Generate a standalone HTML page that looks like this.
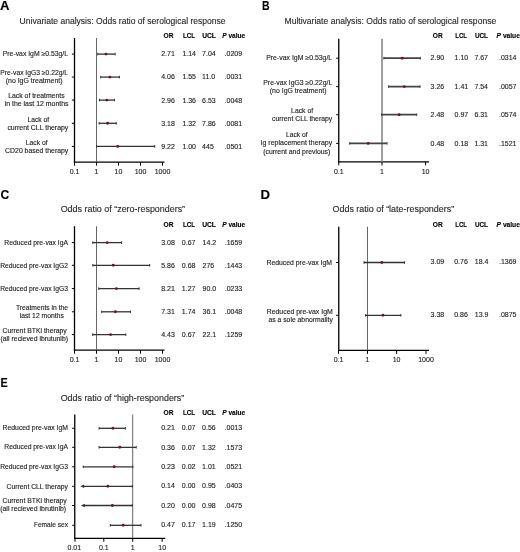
<!DOCTYPE html>
<html><head><meta charset="utf-8"><style>
html,body{margin:0;padding:0;background:#fff;}
svg{display:block;filter:blur(0.3px);font-family:"Liberation Sans",sans-serif;}

</style></head><body>
<svg width="520" height="552" viewBox="0 0 520 552" fill="#222">
<rect width="520" height="552" fill="#fff"/>
<text x="0.00" y="10.00" font-size="12.0" font-weight="bold" fill="#000" stroke="#000" stroke-width="0.12" textLength="9.50" lengthAdjust="spacingAndGlyphs">A</text>
<text x="19.60" y="23.75" font-size="8.7" fill="#282828" stroke="#282828" stroke-width="0.12" textLength="206.00" lengthAdjust="spacingAndGlyphs">Univariate analysis: Odds ratio of serological response</text>
<line x1="74.50" y1="38.00" x2="74.50" y2="162.85" stroke="#000" stroke-width="1.3"/>
<line x1="73.85" y1="162.20" x2="164.50" y2="162.20" stroke="#000" stroke-width="1.3"/>
<line x1="96.50" y1="38.00" x2="96.50" y2="162.20" stroke="#666" stroke-width="1.0"/>
<line x1="74.50" y1="162.20" x2="74.50" y2="165.70" stroke="#000" stroke-width="1"/>
<line x1="96.50" y1="162.20" x2="96.50" y2="165.70" stroke="#000" stroke-width="1"/>
<line x1="118.50" y1="162.20" x2="118.50" y2="165.70" stroke="#000" stroke-width="1"/>
<line x1="140.50" y1="162.20" x2="140.50" y2="165.70" stroke="#000" stroke-width="1"/>
<line x1="162.50" y1="162.20" x2="162.50" y2="165.70" stroke="#000" stroke-width="1"/>
<text x="74.50" y="174.10" font-size="7.0" text-anchor="middle" stroke="#222" stroke-width="0.12">0.1</text>
<text x="96.50" y="174.10" font-size="7.0" text-anchor="middle" stroke="#222" stroke-width="0.12">1</text>
<text x="118.50" y="174.10" font-size="7.0" text-anchor="middle" stroke="#222" stroke-width="0.12">10</text>
<text x="140.50" y="174.10" font-size="7.0" text-anchor="middle" stroke="#222" stroke-width="0.12">100</text>
<text x="162.50" y="174.10" font-size="7.0" text-anchor="middle" stroke="#222" stroke-width="0.12">1000</text>
<line x1="71.90" y1="54.10" x2="74.50" y2="54.10" stroke="#000" stroke-width="1"/>
<line x1="97.75" y1="54.10" x2="115.15" y2="54.10" stroke="#333" stroke-width="1.3"/>
<line x1="97.75" y1="52.80" x2="97.75" y2="55.40" stroke="#333" stroke-width="1"/>
<line x1="115.15" y1="52.80" x2="115.15" y2="55.40" stroke="#333" stroke-width="1"/>
<circle cx="106.03" cy="54.10" r="1.45" fill="#721226"/>
<line x1="71.90" y1="77.10" x2="74.50" y2="77.10" stroke="#000" stroke-width="1"/>
<line x1="100.69" y1="77.10" x2="119.41" y2="77.10" stroke="#333" stroke-width="1.3"/>
<line x1="100.69" y1="75.80" x2="100.69" y2="78.40" stroke="#333" stroke-width="1"/>
<line x1="119.41" y1="75.80" x2="119.41" y2="78.40" stroke="#333" stroke-width="1"/>
<circle cx="109.89" cy="77.10" r="1.45" fill="#721226"/>
<line x1="71.90" y1="100.10" x2="74.50" y2="100.10" stroke="#000" stroke-width="1"/>
<line x1="99.44" y1="100.10" x2="114.43" y2="100.10" stroke="#333" stroke-width="1.3"/>
<line x1="99.44" y1="98.80" x2="99.44" y2="101.40" stroke="#333" stroke-width="1"/>
<line x1="114.43" y1="98.80" x2="114.43" y2="101.40" stroke="#333" stroke-width="1"/>
<circle cx="106.87" cy="100.10" r="1.45" fill="#721226"/>
<line x1="71.90" y1="123.30" x2="74.50" y2="123.30" stroke="#000" stroke-width="1"/>
<line x1="99.15" y1="123.30" x2="116.20" y2="123.30" stroke="#333" stroke-width="1.3"/>
<line x1="99.15" y1="122.00" x2="99.15" y2="124.60" stroke="#333" stroke-width="1"/>
<line x1="116.20" y1="122.00" x2="116.20" y2="124.60" stroke="#333" stroke-width="1"/>
<circle cx="107.55" cy="123.30" r="1.45" fill="#721226"/>
<line x1="71.90" y1="146.40" x2="74.50" y2="146.40" stroke="#000" stroke-width="1"/>
<line x1="96.50" y1="146.40" x2="154.76" y2="146.40" stroke="#333" stroke-width="1.3"/>
<line x1="96.50" y1="145.10" x2="96.50" y2="147.70" stroke="#333" stroke-width="1"/>
<line x1="154.76" y1="145.10" x2="154.76" y2="147.70" stroke="#333" stroke-width="1"/>
<circle cx="117.72" cy="146.40" r="1.45" fill="#721226"/>
<text x="2.80" y="55.80" font-size="6.6" stroke="#222" stroke-width="0.12" textLength="65.20" lengthAdjust="spacingAndGlyphs">Pre-vax IgM ≥0.53g/L</text>
<text x="0.30" y="75.10" font-size="6.6" stroke="#222" stroke-width="0.12" textLength="67.70" lengthAdjust="spacingAndGlyphs">Pre-vax IgG3 ≥0.22g/L</text>
<text x="5.70" y="83.20" font-size="6.6" stroke="#222" stroke-width="0.12" textLength="56.90" lengthAdjust="spacingAndGlyphs">(no IgG treatment)</text>
<text x="8.20" y="98.00" font-size="6.6" stroke="#222" stroke-width="0.12" textLength="56.40" lengthAdjust="spacingAndGlyphs">Lack of treatments</text>
<text x="4.70" y="106.20" font-size="6.6" stroke="#222" stroke-width="0.12" textLength="63.80" lengthAdjust="spacingAndGlyphs">in the last 12 months</text>
<text x="27.40" y="121.50" font-size="6.6" stroke="#222" stroke-width="0.12" textLength="21.80" lengthAdjust="spacingAndGlyphs">Lack of</text>
<text x="7.40" y="129.80" font-size="6.6" stroke="#222" stroke-width="0.12" textLength="60.90" lengthAdjust="spacingAndGlyphs">current CLL therapy</text>
<text x="25.70" y="144.60" font-size="6.6" stroke="#222" stroke-width="0.12" textLength="22.00" lengthAdjust="spacingAndGlyphs">Lack of</text>
<text x="5.10" y="152.60" font-size="6.6" stroke="#222" stroke-width="0.12" textLength="63.20" lengthAdjust="spacingAndGlyphs">CD20 based therapy</text>
<text x="163.50" y="38.00" font-size="6.9" font-weight="bold" fill="#000" stroke="#000" stroke-width="0.12" textLength="10.00" lengthAdjust="spacingAndGlyphs">OR</text>
<text x="182.90" y="38.00" font-size="6.9" font-weight="bold" fill="#000" stroke="#000" stroke-width="0.12" textLength="12.20" lengthAdjust="spacingAndGlyphs">LCL</text>
<text x="202.20" y="38.00" font-size="6.9" font-weight="bold" fill="#000" stroke="#000" stroke-width="0.12" textLength="13.70" lengthAdjust="spacingAndGlyphs">UCL</text>
<text x="222.30" y="38.00" font-size="6.9" font-weight="bold" fill="#000" stroke="#000" stroke-width="0.12" textLength="22.80" lengthAdjust="spacingAndGlyphs"><tspan font-style="italic">P</tspan> value</text>
<text x="161.20" y="55.90" font-size="7.0" stroke="#222" stroke-width="0.12">2.71</text>
<text x="182.40" y="55.90" font-size="7.0" stroke="#222" stroke-width="0.12">1.14</text>
<text x="202.10" y="55.90" font-size="7.0" stroke="#222" stroke-width="0.12">7.04</text>
<text x="224.60" y="55.90" font-size="7.0" stroke="#222" stroke-width="0.12">.0209</text>
<text x="161.20" y="79.20" font-size="7.0" stroke="#222" stroke-width="0.12">4.06</text>
<text x="182.40" y="79.20" font-size="7.0" stroke="#222" stroke-width="0.12">1.55</text>
<text x="202.10" y="79.20" font-size="7.0" stroke="#222" stroke-width="0.12">11.0</text>
<text x="224.60" y="79.20" font-size="7.0" stroke="#222" stroke-width="0.12">.0031</text>
<text x="161.20" y="102.90" font-size="7.0" stroke="#222" stroke-width="0.12">2.96</text>
<text x="182.40" y="102.90" font-size="7.0" stroke="#222" stroke-width="0.12">1.36</text>
<text x="202.10" y="102.90" font-size="7.0" stroke="#222" stroke-width="0.12">6.53</text>
<text x="224.60" y="102.90" font-size="7.0" stroke="#222" stroke-width="0.12">.0048</text>
<text x="161.20" y="125.60" font-size="7.0" stroke="#222" stroke-width="0.12">3.18</text>
<text x="182.40" y="125.60" font-size="7.0" stroke="#222" stroke-width="0.12">1.32</text>
<text x="202.10" y="125.60" font-size="7.0" stroke="#222" stroke-width="0.12">7.86</text>
<text x="224.60" y="125.60" font-size="7.0" stroke="#222" stroke-width="0.12">.0081</text>
<text x="161.20" y="148.90" font-size="7.0" stroke="#222" stroke-width="0.12">9.22</text>
<text x="182.40" y="148.90" font-size="7.0" stroke="#222" stroke-width="0.12">1.00</text>
<text x="202.10" y="148.90" font-size="7.0" stroke="#222" stroke-width="0.12">445</text>
<text x="224.60" y="148.90" font-size="7.0" stroke="#222" stroke-width="0.12">.0501</text>
<text x="261.90" y="10.00" font-size="12.0" font-weight="bold" fill="#000" stroke="#000" stroke-width="0.12" textLength="7.60" lengthAdjust="spacingAndGlyphs">B</text>
<text x="284.50" y="23.75" font-size="8.7" fill="#282828" stroke="#282828" stroke-width="0.12" textLength="211.70" lengthAdjust="spacingAndGlyphs">Multivariate analysis: Odds ratio of serological response</text>
<line x1="338.75" y1="38.75" x2="338.75" y2="162.55" stroke="#000" stroke-width="1.3"/>
<line x1="338.10" y1="161.90" x2="429.00" y2="161.90" stroke="#000" stroke-width="1.3"/>
<line x1="382.00" y1="38.75" x2="382.00" y2="161.90" stroke="#8a8a8a" stroke-width="1.6"/>
<line x1="338.75" y1="161.90" x2="338.75" y2="165.40" stroke="#000" stroke-width="1"/>
<line x1="382.00" y1="161.90" x2="382.00" y2="165.40" stroke="#000" stroke-width="1"/>
<line x1="425.60" y1="161.90" x2="425.60" y2="165.40" stroke="#000" stroke-width="1"/>
<text x="338.75" y="174.10" font-size="7.0" text-anchor="middle" stroke="#222" stroke-width="0.12">0.1</text>
<text x="382.00" y="174.10" font-size="7.0" text-anchor="middle" stroke="#222" stroke-width="0.12">1</text>
<text x="425.60" y="174.10" font-size="7.0" text-anchor="middle" stroke="#222" stroke-width="0.12">10</text>
<line x1="336.15" y1="58.20" x2="338.75" y2="58.20" stroke="#000" stroke-width="1"/>
<line x1="383.80" y1="58.20" x2="420.40" y2="58.20" stroke="#444" stroke-width="1.7"/>
<line x1="383.80" y1="56.90" x2="383.80" y2="59.50" stroke="#444" stroke-width="1"/>
<line x1="420.40" y1="56.90" x2="420.40" y2="59.50" stroke="#444" stroke-width="1"/>
<circle cx="402.07" cy="58.20" r="1.45" fill="#721226"/>
<line x1="336.15" y1="86.60" x2="338.75" y2="86.60" stroke="#000" stroke-width="1"/>
<line x1="388.48" y1="86.60" x2="420.08" y2="86.60" stroke="#444" stroke-width="1.7"/>
<line x1="388.48" y1="85.30" x2="388.48" y2="87.90" stroke="#444" stroke-width="1"/>
<line x1="420.08" y1="85.30" x2="420.08" y2="87.90" stroke="#444" stroke-width="1"/>
<circle cx="404.27" cy="86.60" r="1.45" fill="#721226"/>
<line x1="336.15" y1="114.70" x2="338.75" y2="114.70" stroke="#000" stroke-width="1"/>
<line x1="381.43" y1="114.70" x2="416.72" y2="114.70" stroke="#444" stroke-width="1.7"/>
<line x1="381.43" y1="113.40" x2="381.43" y2="116.00" stroke="#444" stroke-width="1"/>
<line x1="416.72" y1="113.40" x2="416.72" y2="116.00" stroke="#444" stroke-width="1"/>
<circle cx="399.12" cy="114.70" r="1.45" fill="#721226"/>
<line x1="336.15" y1="143.40" x2="338.75" y2="143.40" stroke="#000" stroke-width="1"/>
<line x1="349.68" y1="143.40" x2="387.09" y2="143.40" stroke="#444" stroke-width="1.7"/>
<line x1="349.68" y1="142.10" x2="349.68" y2="144.70" stroke="#444" stroke-width="1"/>
<line x1="387.09" y1="142.10" x2="387.09" y2="144.70" stroke="#444" stroke-width="1"/>
<circle cx="368.17" cy="143.40" r="1.45" fill="#721226"/>
<text x="266.20" y="59.60" font-size="6.6" stroke="#222" stroke-width="0.12" textLength="66.00" lengthAdjust="spacingAndGlyphs">Pre-vax IgM ≥0.53g/L</text>
<text x="263.30" y="84.50" font-size="6.6" stroke="#222" stroke-width="0.12" textLength="68.90" lengthAdjust="spacingAndGlyphs">Pre-vax IgG3 ≥0.22g/L</text>
<text x="269.80" y="92.60" font-size="6.6" stroke="#222" stroke-width="0.12" textLength="56.70" lengthAdjust="spacingAndGlyphs">(no IgG treatment)</text>
<text x="291.10" y="112.70" font-size="6.6" stroke="#222" stroke-width="0.12" textLength="22.00" lengthAdjust="spacingAndGlyphs">Lack of</text>
<text x="272.00" y="121.20" font-size="6.6" stroke="#222" stroke-width="0.12" textLength="60.20" lengthAdjust="spacingAndGlyphs">current CLL therapy</text>
<text x="285.90" y="137.20" font-size="6.6" stroke="#222" stroke-width="0.12" textLength="21.80" lengthAdjust="spacingAndGlyphs">Lack of</text>
<text x="260.50" y="145.30" font-size="6.6" stroke="#222" stroke-width="0.12" textLength="71.70" lengthAdjust="spacingAndGlyphs">Ig replacement therapy</text>
<text x="263.30" y="153.50" font-size="6.6" stroke="#222" stroke-width="0.12" textLength="67.00" lengthAdjust="spacingAndGlyphs">(current and previous)</text>
<text x="432.80" y="38.30" font-size="6.9" font-weight="bold" fill="#000" stroke="#000" stroke-width="0.12" textLength="10.00" lengthAdjust="spacingAndGlyphs">OR</text>
<text x="455.30" y="38.30" font-size="6.9" font-weight="bold" fill="#000" stroke="#000" stroke-width="0.12" textLength="11.70" lengthAdjust="spacingAndGlyphs">LCL</text>
<text x="474.90" y="38.30" font-size="6.9" font-weight="bold" fill="#000" stroke="#000" stroke-width="0.12" textLength="13.10" lengthAdjust="spacingAndGlyphs">UCL</text>
<text x="496.60" y="38.30" font-size="6.9" font-weight="bold" fill="#000" stroke="#000" stroke-width="0.12" textLength="23.30" lengthAdjust="spacingAndGlyphs"><tspan font-style="italic">P</tspan> value</text>
<text x="430.60" y="60.10" font-size="7.0" stroke="#222" stroke-width="0.12">2.90</text>
<text x="454.60" y="60.10" font-size="7.0" stroke="#222" stroke-width="0.12">1.10</text>
<text x="474.40" y="60.10" font-size="7.0" stroke="#222" stroke-width="0.12">7.67</text>
<text x="499.00" y="60.10" font-size="7.0" stroke="#222" stroke-width="0.12">.0314</text>
<text x="430.60" y="88.60" font-size="7.0" stroke="#222" stroke-width="0.12">3.26</text>
<text x="454.60" y="88.60" font-size="7.0" stroke="#222" stroke-width="0.12">1.41</text>
<text x="474.40" y="88.60" font-size="7.0" stroke="#222" stroke-width="0.12">7.54</text>
<text x="499.00" y="88.60" font-size="7.0" stroke="#222" stroke-width="0.12">.0057</text>
<text x="430.60" y="116.80" font-size="7.0" stroke="#222" stroke-width="0.12">2.48</text>
<text x="454.60" y="116.80" font-size="7.0" stroke="#222" stroke-width="0.12">0.97</text>
<text x="474.40" y="116.80" font-size="7.0" stroke="#222" stroke-width="0.12">6.31</text>
<text x="499.00" y="116.80" font-size="7.0" stroke="#222" stroke-width="0.12">.0574</text>
<text x="430.60" y="145.60" font-size="7.0" stroke="#222" stroke-width="0.12">0.48</text>
<text x="454.60" y="145.60" font-size="7.0" stroke="#222" stroke-width="0.12">0.18</text>
<text x="474.40" y="145.60" font-size="7.0" stroke="#222" stroke-width="0.12">1.31</text>
<text x="499.00" y="145.60" font-size="7.0" stroke="#222" stroke-width="0.12">.1521</text>
<text x="0.50" y="199.25" font-size="12.0" font-weight="bold" fill="#000" stroke="#000" stroke-width="0.12" textLength="8.75" lengthAdjust="spacingAndGlyphs">C</text>
<text x="60.70" y="212.20" font-size="8.7" fill="#282828" stroke="#282828" stroke-width="0.12" textLength="124.40" lengthAdjust="spacingAndGlyphs">Odds ratio of “zero-responders”</text>
<line x1="74.50" y1="226.25" x2="74.50" y2="350.85" stroke="#000" stroke-width="1.3"/>
<line x1="73.85" y1="350.20" x2="164.50" y2="350.20" stroke="#000" stroke-width="1.3"/>
<line x1="96.50" y1="226.25" x2="96.50" y2="350.20" stroke="#666" stroke-width="1.0"/>
<line x1="74.50" y1="350.20" x2="74.50" y2="353.70" stroke="#000" stroke-width="1"/>
<line x1="96.50" y1="350.20" x2="96.50" y2="353.70" stroke="#000" stroke-width="1"/>
<line x1="118.50" y1="350.20" x2="118.50" y2="353.70" stroke="#000" stroke-width="1"/>
<line x1="140.50" y1="350.20" x2="140.50" y2="353.70" stroke="#000" stroke-width="1"/>
<line x1="162.50" y1="350.20" x2="162.50" y2="353.70" stroke="#000" stroke-width="1"/>
<text x="74.50" y="362.40" font-size="7.0" text-anchor="middle" stroke="#222" stroke-width="0.12">0.1</text>
<text x="96.50" y="362.40" font-size="7.0" text-anchor="middle" stroke="#222" stroke-width="0.12">1</text>
<text x="118.50" y="362.40" font-size="7.0" text-anchor="middle" stroke="#222" stroke-width="0.12">10</text>
<text x="140.50" y="362.40" font-size="7.0" text-anchor="middle" stroke="#222" stroke-width="0.12">100</text>
<text x="162.50" y="362.40" font-size="7.0" text-anchor="middle" stroke="#222" stroke-width="0.12">1000</text>
<line x1="71.90" y1="242.60" x2="74.50" y2="242.60" stroke="#000" stroke-width="1"/>
<line x1="92.71" y1="242.60" x2="121.62" y2="242.60" stroke="#333" stroke-width="1.3"/>
<line x1="92.71" y1="241.30" x2="92.71" y2="243.90" stroke="#333" stroke-width="1"/>
<line x1="121.62" y1="241.30" x2="121.62" y2="243.90" stroke="#333" stroke-width="1"/>
<circle cx="107.15" cy="242.60" r="1.45" fill="#721226"/>
<line x1="71.90" y1="265.30" x2="74.50" y2="265.30" stroke="#000" stroke-width="1"/>
<line x1="92.85" y1="265.30" x2="149.71" y2="265.30" stroke="#333" stroke-width="1.3"/>
<line x1="92.85" y1="264.00" x2="92.85" y2="266.60" stroke="#333" stroke-width="1"/>
<line x1="149.71" y1="264.00" x2="149.71" y2="266.60" stroke="#333" stroke-width="1"/>
<circle cx="113.24" cy="265.30" r="1.45" fill="#721226"/>
<line x1="71.90" y1="288.60" x2="74.50" y2="288.60" stroke="#000" stroke-width="1"/>
<line x1="98.76" y1="288.60" x2="139.10" y2="288.60" stroke="#333" stroke-width="1.3"/>
<line x1="98.76" y1="287.30" x2="98.76" y2="289.90" stroke="#333" stroke-width="1"/>
<line x1="139.10" y1="287.30" x2="139.10" y2="289.90" stroke="#333" stroke-width="1"/>
<circle cx="116.43" cy="288.60" r="1.45" fill="#721226"/>
<line x1="71.90" y1="311.80" x2="74.50" y2="311.80" stroke="#000" stroke-width="1"/>
<line x1="101.74" y1="311.80" x2="130.45" y2="311.80" stroke="#333" stroke-width="1.3"/>
<line x1="101.74" y1="310.50" x2="101.74" y2="313.10" stroke="#333" stroke-width="1"/>
<line x1="130.45" y1="310.50" x2="130.45" y2="313.10" stroke="#333" stroke-width="1"/>
<circle cx="115.33" cy="311.80" r="1.45" fill="#721226"/>
<line x1="71.90" y1="334.60" x2="74.50" y2="334.60" stroke="#000" stroke-width="1"/>
<line x1="92.71" y1="334.60" x2="125.81" y2="334.60" stroke="#333" stroke-width="1.3"/>
<line x1="92.71" y1="333.30" x2="92.71" y2="335.90" stroke="#333" stroke-width="1"/>
<line x1="125.81" y1="333.30" x2="125.81" y2="335.90" stroke="#333" stroke-width="1"/>
<circle cx="110.59" cy="334.60" r="1.45" fill="#721226"/>
<text x="4.30" y="245.00" font-size="6.6" stroke="#222" stroke-width="0.12" textLength="63.70" lengthAdjust="spacingAndGlyphs">Reduced pre-vax IgA</text>
<text x="0.20" y="267.80" font-size="6.6" stroke="#222" stroke-width="0.12" textLength="67.80" lengthAdjust="spacingAndGlyphs">Reduced pre-vax IgG2</text>
<text x="0.20" y="290.70" font-size="6.6" stroke="#222" stroke-width="0.12" textLength="67.80" lengthAdjust="spacingAndGlyphs">Reduced pre-vax IgG3</text>
<text x="15.90" y="309.60" font-size="6.6" stroke="#222" stroke-width="0.12" textLength="52.10" lengthAdjust="spacingAndGlyphs">Treatments in the</text>
<text x="19.70" y="317.80" font-size="6.6" stroke="#222" stroke-width="0.12" textLength="44.10" lengthAdjust="spacingAndGlyphs">last 12 months</text>
<text x="2.50" y="332.90" font-size="6.6" stroke="#222" stroke-width="0.12" textLength="64.30" lengthAdjust="spacingAndGlyphs">Current BTKi therapy</text>
<text x="0.50" y="340.90" font-size="6.6" stroke="#222" stroke-width="0.12" textLength="67.50" lengthAdjust="spacingAndGlyphs">(all recieved ibrutunib)</text>
<text x="163.50" y="226.90" font-size="6.9" font-weight="bold" fill="#000" stroke="#000" stroke-width="0.12" textLength="10.00" lengthAdjust="spacingAndGlyphs">OR</text>
<text x="182.90" y="226.90" font-size="6.9" font-weight="bold" fill="#000" stroke="#000" stroke-width="0.12" textLength="12.20" lengthAdjust="spacingAndGlyphs">LCL</text>
<text x="202.20" y="226.90" font-size="6.9" font-weight="bold" fill="#000" stroke="#000" stroke-width="0.12" textLength="13.70" lengthAdjust="spacingAndGlyphs">UCL</text>
<text x="222.30" y="226.90" font-size="6.9" font-weight="bold" fill="#000" stroke="#000" stroke-width="0.12" textLength="22.80" lengthAdjust="spacingAndGlyphs"><tspan font-style="italic">P</tspan> value</text>
<text x="161.20" y="244.90" font-size="7.0" stroke="#222" stroke-width="0.12">3.08</text>
<text x="181.80" y="244.90" font-size="7.0" stroke="#222" stroke-width="0.12">0.67</text>
<text x="202.50" y="244.90" font-size="7.0" stroke="#222" stroke-width="0.12">14.2</text>
<text x="224.70" y="244.90" font-size="7.0" stroke="#222" stroke-width="0.12">.1659</text>
<text x="161.20" y="267.70" font-size="7.0" stroke="#222" stroke-width="0.12">5.86</text>
<text x="181.80" y="267.70" font-size="7.0" stroke="#222" stroke-width="0.12">0.68</text>
<text x="202.50" y="267.70" font-size="7.0" stroke="#222" stroke-width="0.12">276</text>
<text x="224.70" y="267.70" font-size="7.0" stroke="#222" stroke-width="0.12">.1443</text>
<text x="161.20" y="291.15" font-size="7.0" stroke="#222" stroke-width="0.12">8.21</text>
<text x="181.80" y="291.15" font-size="7.0" stroke="#222" stroke-width="0.12">1.27</text>
<text x="202.50" y="291.15" font-size="7.0" stroke="#222" stroke-width="0.12">90.0</text>
<text x="224.70" y="291.15" font-size="7.0" stroke="#222" stroke-width="0.12">.0233</text>
<text x="161.20" y="313.80" font-size="7.0" stroke="#222" stroke-width="0.12">7.31</text>
<text x="181.80" y="313.80" font-size="7.0" stroke="#222" stroke-width="0.12">1.74</text>
<text x="202.50" y="313.80" font-size="7.0" stroke="#222" stroke-width="0.12">36.1</text>
<text x="224.70" y="313.80" font-size="7.0" stroke="#222" stroke-width="0.12">.0048</text>
<text x="161.20" y="336.60" font-size="7.0" stroke="#222" stroke-width="0.12">4.43</text>
<text x="181.80" y="336.60" font-size="7.0" stroke="#222" stroke-width="0.12">0.67</text>
<text x="202.50" y="336.60" font-size="7.0" stroke="#222" stroke-width="0.12">22.1</text>
<text x="224.70" y="336.60" font-size="7.0" stroke="#222" stroke-width="0.12">.1259</text>
<text x="260.60" y="199.00" font-size="12.0" font-weight="bold" fill="#000" stroke="#000" stroke-width="0.12" textLength="9.50" lengthAdjust="spacingAndGlyphs">D</text>
<text x="332.50" y="212.30" font-size="8.7" fill="#282828" stroke="#282828" stroke-width="0.12" textLength="121.70" lengthAdjust="spacingAndGlyphs">Odds ratio of “late-responders”</text>
<line x1="338.75" y1="226.75" x2="338.75" y2="351.05" stroke="#000" stroke-width="1.3"/>
<line x1="338.10" y1="350.40" x2="429.00" y2="350.40" stroke="#000" stroke-width="1.3"/>
<line x1="367.50" y1="226.75" x2="367.50" y2="350.40" stroke="#666" stroke-width="1.0"/>
<line x1="338.50" y1="350.40" x2="338.50" y2="353.90" stroke="#000" stroke-width="1"/>
<line x1="367.50" y1="350.40" x2="367.50" y2="353.90" stroke="#000" stroke-width="1"/>
<line x1="396.60" y1="350.40" x2="396.60" y2="353.90" stroke="#000" stroke-width="1"/>
<line x1="426.00" y1="350.40" x2="426.00" y2="353.90" stroke="#000" stroke-width="1"/>
<text x="338.50" y="362.40" font-size="7.0" text-anchor="middle" stroke="#222" stroke-width="0.12">0.1</text>
<text x="367.50" y="362.40" font-size="7.0" text-anchor="middle" stroke="#222" stroke-width="0.12">1</text>
<text x="396.60" y="362.40" font-size="7.0" text-anchor="middle" stroke="#222" stroke-width="0.12">10</text>
<text x="426.00" y="362.40" font-size="7.0" text-anchor="middle" stroke="#222" stroke-width="0.12">1000</text>
<line x1="336.15" y1="262.50" x2="338.75" y2="262.50" stroke="#000" stroke-width="1"/>
<line x1="364.02" y1="262.50" x2="404.43" y2="262.50" stroke="#333" stroke-width="1.3"/>
<line x1="364.02" y1="261.20" x2="364.02" y2="263.80" stroke="#333" stroke-width="1"/>
<line x1="404.43" y1="261.20" x2="404.43" y2="263.80" stroke="#333" stroke-width="1"/>
<circle cx="381.81" cy="262.50" r="1.45" fill="#721226"/>
<line x1="336.15" y1="315.30" x2="338.75" y2="315.30" stroke="#000" stroke-width="1"/>
<line x1="365.59" y1="315.30" x2="400.88" y2="315.30" stroke="#333" stroke-width="1.3"/>
<line x1="365.59" y1="314.00" x2="365.59" y2="316.60" stroke="#333" stroke-width="1"/>
<line x1="400.88" y1="314.00" x2="400.88" y2="316.60" stroke="#333" stroke-width="1"/>
<circle cx="382.94" cy="315.30" r="1.45" fill="#721226"/>
<text x="266.45" y="264.50" font-size="6.6" stroke="#222" stroke-width="0.12" textLength="65.60" lengthAdjust="spacingAndGlyphs">Reduced pre-vax IgM</text>
<text x="266.70" y="313.80" font-size="6.6" stroke="#222" stroke-width="0.12" textLength="66.10" lengthAdjust="spacingAndGlyphs">Reduced pre-vax IgM</text>
<text x="268.45" y="322.00" font-size="6.6" stroke="#222" stroke-width="0.12" textLength="64.35" lengthAdjust="spacingAndGlyphs">as a sole abnormality</text>
<text x="432.80" y="226.60" font-size="6.9" font-weight="bold" fill="#000" stroke="#000" stroke-width="0.12" textLength="10.00" lengthAdjust="spacingAndGlyphs">OR</text>
<text x="455.30" y="226.60" font-size="6.9" font-weight="bold" fill="#000" stroke="#000" stroke-width="0.12" textLength="11.70" lengthAdjust="spacingAndGlyphs">LCL</text>
<text x="474.90" y="226.60" font-size="6.9" font-weight="bold" fill="#000" stroke="#000" stroke-width="0.12" textLength="13.10" lengthAdjust="spacingAndGlyphs">UCL</text>
<text x="496.60" y="226.60" font-size="6.9" font-weight="bold" fill="#000" stroke="#000" stroke-width="0.12" textLength="23.30" lengthAdjust="spacingAndGlyphs"><tspan font-style="italic">P</tspan> value</text>
<text x="430.60" y="264.00" font-size="7.0" stroke="#222" stroke-width="0.12">3.09</text>
<text x="454.20" y="264.00" font-size="7.0" stroke="#222" stroke-width="0.12">0.76</text>
<text x="474.80" y="264.00" font-size="7.0" stroke="#222" stroke-width="0.12">18.4</text>
<text x="499.00" y="264.00" font-size="7.0" stroke="#222" stroke-width="0.12">.1369</text>
<text x="430.60" y="317.00" font-size="7.0" stroke="#222" stroke-width="0.12">3.38</text>
<text x="454.20" y="317.00" font-size="7.0" stroke="#222" stroke-width="0.12">0.86</text>
<text x="474.80" y="317.00" font-size="7.0" stroke="#222" stroke-width="0.12">13.9</text>
<text x="499.00" y="317.00" font-size="7.0" stroke="#222" stroke-width="0.12">.0875</text>
<text x="0.50" y="387.00" font-size="12.0" font-weight="bold" fill="#000" stroke="#000" stroke-width="0.12" textLength="7.25" lengthAdjust="spacingAndGlyphs">E</text>
<text x="60.70" y="400.80" font-size="8.7" fill="#282828" stroke="#282828" stroke-width="0.12" textLength="123.50" lengthAdjust="spacingAndGlyphs">Odds ratio of “high-responders”</text>
<line x1="74.75" y1="414.50" x2="74.75" y2="538.95" stroke="#000" stroke-width="1.3"/>
<line x1="74.10" y1="538.30" x2="165.30" y2="538.30" stroke="#000" stroke-width="1.3"/>
<line x1="132.70" y1="414.50" x2="132.70" y2="538.30" stroke="#666" stroke-width="1.0"/>
<line x1="75.00" y1="538.30" x2="75.00" y2="541.80" stroke="#000" stroke-width="1"/>
<line x1="103.80" y1="538.30" x2="103.80" y2="541.80" stroke="#000" stroke-width="1"/>
<line x1="132.70" y1="538.30" x2="132.70" y2="541.80" stroke="#000" stroke-width="1"/>
<line x1="162.20" y1="538.30" x2="162.20" y2="541.80" stroke="#000" stroke-width="1"/>
<text x="74.30" y="550.40" font-size="7.0" text-anchor="middle" stroke="#222" stroke-width="0.12">0.01</text>
<text x="103.80" y="550.40" font-size="7.0" text-anchor="middle" stroke="#222" stroke-width="0.12">0.1</text>
<text x="132.70" y="550.40" font-size="7.0" text-anchor="middle" stroke="#222" stroke-width="0.12">1</text>
<text x="162.20" y="550.40" font-size="7.0" text-anchor="middle" stroke="#222" stroke-width="0.12">10</text>
<line x1="72.15" y1="428.30" x2="74.75" y2="428.30" stroke="#000" stroke-width="1"/>
<line x1="99.09" y1="428.30" x2="125.37" y2="428.30" stroke="#333" stroke-width="1.3"/>
<line x1="99.09" y1="427.00" x2="99.09" y2="429.60" stroke="#333" stroke-width="1"/>
<line x1="125.37" y1="427.00" x2="125.37" y2="429.60" stroke="#333" stroke-width="1"/>
<circle cx="112.98" cy="428.30" r="1.45" fill="#721226"/>
<line x1="72.15" y1="447.30" x2="74.75" y2="447.30" stroke="#000" stroke-width="1"/>
<line x1="99.09" y1="447.30" x2="136.21" y2="447.30" stroke="#333" stroke-width="1.3"/>
<line x1="99.09" y1="446.00" x2="99.09" y2="448.60" stroke="#333" stroke-width="1"/>
<line x1="136.21" y1="446.00" x2="136.21" y2="448.60" stroke="#333" stroke-width="1"/>
<circle cx="119.79" cy="447.30" r="1.45" fill="#721226"/>
<line x1="72.15" y1="466.80" x2="74.75" y2="466.80" stroke="#000" stroke-width="1"/>
<line x1="83.26" y1="466.80" x2="132.83" y2="466.80" stroke="#333" stroke-width="1.3"/>
<line x1="83.26" y1="465.50" x2="83.26" y2="468.10" stroke="#333" stroke-width="1"/>
<line x1="132.83" y1="465.50" x2="132.83" y2="468.10" stroke="#333" stroke-width="1"/>
<circle cx="114.13" cy="466.80" r="1.45" fill="#721226"/>
<line x1="72.15" y1="486.30" x2="74.75" y2="486.30" stroke="#000" stroke-width="1"/>
<line x1="83.20" y1="486.30" x2="132.30" y2="486.30" stroke="#333" stroke-width="1.3"/>
<path d="M80.20 486.30 L84.20 484.60 L84.20 488.00Z" fill="#333"/>
<line x1="132.30" y1="485.00" x2="132.30" y2="487.60" stroke="#333" stroke-width="1"/>
<circle cx="107.85" cy="486.30" r="1.45" fill="#721226"/>
<line x1="72.15" y1="505.50" x2="74.75" y2="505.50" stroke="#000" stroke-width="1"/>
<line x1="83.80" y1="505.50" x2="132.30" y2="505.50" stroke="#333" stroke-width="1.3"/>
<path d="M80.80 505.50 L84.80 503.80 L84.80 507.20Z" fill="#333"/>
<line x1="132.30" y1="504.20" x2="132.30" y2="506.80" stroke="#333" stroke-width="1"/>
<circle cx="112.36" cy="505.50" r="1.45" fill="#721226"/>
<line x1="72.15" y1="525.30" x2="74.75" y2="525.30" stroke="#000" stroke-width="1"/>
<line x1="110.31" y1="525.30" x2="141.00" y2="525.30" stroke="#333" stroke-width="1.3"/>
<line x1="110.31" y1="524.00" x2="110.31" y2="526.60" stroke="#333" stroke-width="1"/>
<line x1="141.00" y1="524.00" x2="141.00" y2="526.60" stroke="#333" stroke-width="1"/>
<circle cx="123.16" cy="525.30" r="1.45" fill="#721226"/>
<text x="2.50" y="430.40" font-size="6.6" stroke="#222" stroke-width="0.12" textLength="65.50" lengthAdjust="spacingAndGlyphs">Reduced pre-vax IgM</text>
<text x="4.30" y="449.30" font-size="6.6" stroke="#222" stroke-width="0.12" textLength="63.70" lengthAdjust="spacingAndGlyphs">Reduced pre-vax IgA</text>
<text x="0.20" y="468.90" font-size="6.6" stroke="#222" stroke-width="0.12" textLength="67.80" lengthAdjust="spacingAndGlyphs">Reduced pre-vax IgG3</text>
<text x="6.60" y="488.50" font-size="6.6" stroke="#222" stroke-width="0.12" textLength="61.40" lengthAdjust="spacingAndGlyphs">Current CLL therapy</text>
<text x="2.50" y="503.40" font-size="6.6" stroke="#222" stroke-width="0.12" textLength="64.30" lengthAdjust="spacingAndGlyphs">Current BTKi therapy</text>
<text x="0.20" y="511.20" font-size="6.6" stroke="#222" stroke-width="0.12" textLength="65.90" lengthAdjust="spacingAndGlyphs">(all recieved ibrutinib)</text>
<text x="33.90" y="526.60" font-size="6.6" stroke="#222" stroke-width="0.12" textLength="34.10" lengthAdjust="spacingAndGlyphs">Female sex</text>
<text x="163.50" y="415.20" font-size="6.9" font-weight="bold" fill="#000" stroke="#000" stroke-width="0.12" textLength="10.00" lengthAdjust="spacingAndGlyphs">OR</text>
<text x="182.90" y="415.20" font-size="6.9" font-weight="bold" fill="#000" stroke="#000" stroke-width="0.12" textLength="12.20" lengthAdjust="spacingAndGlyphs">LCL</text>
<text x="202.20" y="415.20" font-size="6.9" font-weight="bold" fill="#000" stroke="#000" stroke-width="0.12" textLength="13.70" lengthAdjust="spacingAndGlyphs">UCL</text>
<text x="222.30" y="415.20" font-size="6.9" font-weight="bold" fill="#000" stroke="#000" stroke-width="0.12" textLength="22.80" lengthAdjust="spacingAndGlyphs"><tspan font-style="italic">P</tspan> value</text>
<text x="161.20" y="429.60" font-size="7.0" stroke="#222" stroke-width="0.12">0.21</text>
<text x="181.80" y="429.60" font-size="7.0" stroke="#222" stroke-width="0.12">0.07</text>
<text x="202.10" y="429.60" font-size="7.0" stroke="#222" stroke-width="0.12">0.56</text>
<text x="224.60" y="429.60" font-size="7.0" stroke="#222" stroke-width="0.12">.0013</text>
<text x="161.20" y="449.70" font-size="7.0" stroke="#222" stroke-width="0.12">0.36</text>
<text x="181.80" y="449.70" font-size="7.0" stroke="#222" stroke-width="0.12">0.07</text>
<text x="202.10" y="449.70" font-size="7.0" stroke="#222" stroke-width="0.12">1.32</text>
<text x="224.60" y="449.70" font-size="7.0" stroke="#222" stroke-width="0.12">.1573</text>
<text x="161.20" y="469.40" font-size="7.0" stroke="#222" stroke-width="0.12">0.23</text>
<text x="181.80" y="469.40" font-size="7.0" stroke="#222" stroke-width="0.12">0.02</text>
<text x="202.10" y="469.40" font-size="7.0" stroke="#222" stroke-width="0.12">1.01</text>
<text x="224.60" y="469.40" font-size="7.0" stroke="#222" stroke-width="0.12">.0521</text>
<text x="161.20" y="488.00" font-size="7.0" stroke="#222" stroke-width="0.12">0.14</text>
<text x="181.80" y="488.00" font-size="7.0" stroke="#222" stroke-width="0.12">0.00</text>
<text x="202.10" y="488.00" font-size="7.0" stroke="#222" stroke-width="0.12">0.95</text>
<text x="224.60" y="488.00" font-size="7.0" stroke="#222" stroke-width="0.12">.0403</text>
<text x="161.20" y="507.65" font-size="7.0" stroke="#222" stroke-width="0.12">0.20</text>
<text x="181.80" y="507.65" font-size="7.0" stroke="#222" stroke-width="0.12">0.00</text>
<text x="202.10" y="507.65" font-size="7.0" stroke="#222" stroke-width="0.12">0.98</text>
<text x="224.60" y="507.65" font-size="7.0" stroke="#222" stroke-width="0.12">.0475</text>
<text x="161.20" y="527.10" font-size="7.0" stroke="#222" stroke-width="0.12">0.47</text>
<text x="181.80" y="527.10" font-size="7.0" stroke="#222" stroke-width="0.12">0.17</text>
<text x="202.10" y="527.10" font-size="7.0" stroke="#222" stroke-width="0.12">1.19</text>
<text x="224.60" y="527.10" font-size="7.0" stroke="#222" stroke-width="0.12">.1250</text>
</svg>
</body></html>
